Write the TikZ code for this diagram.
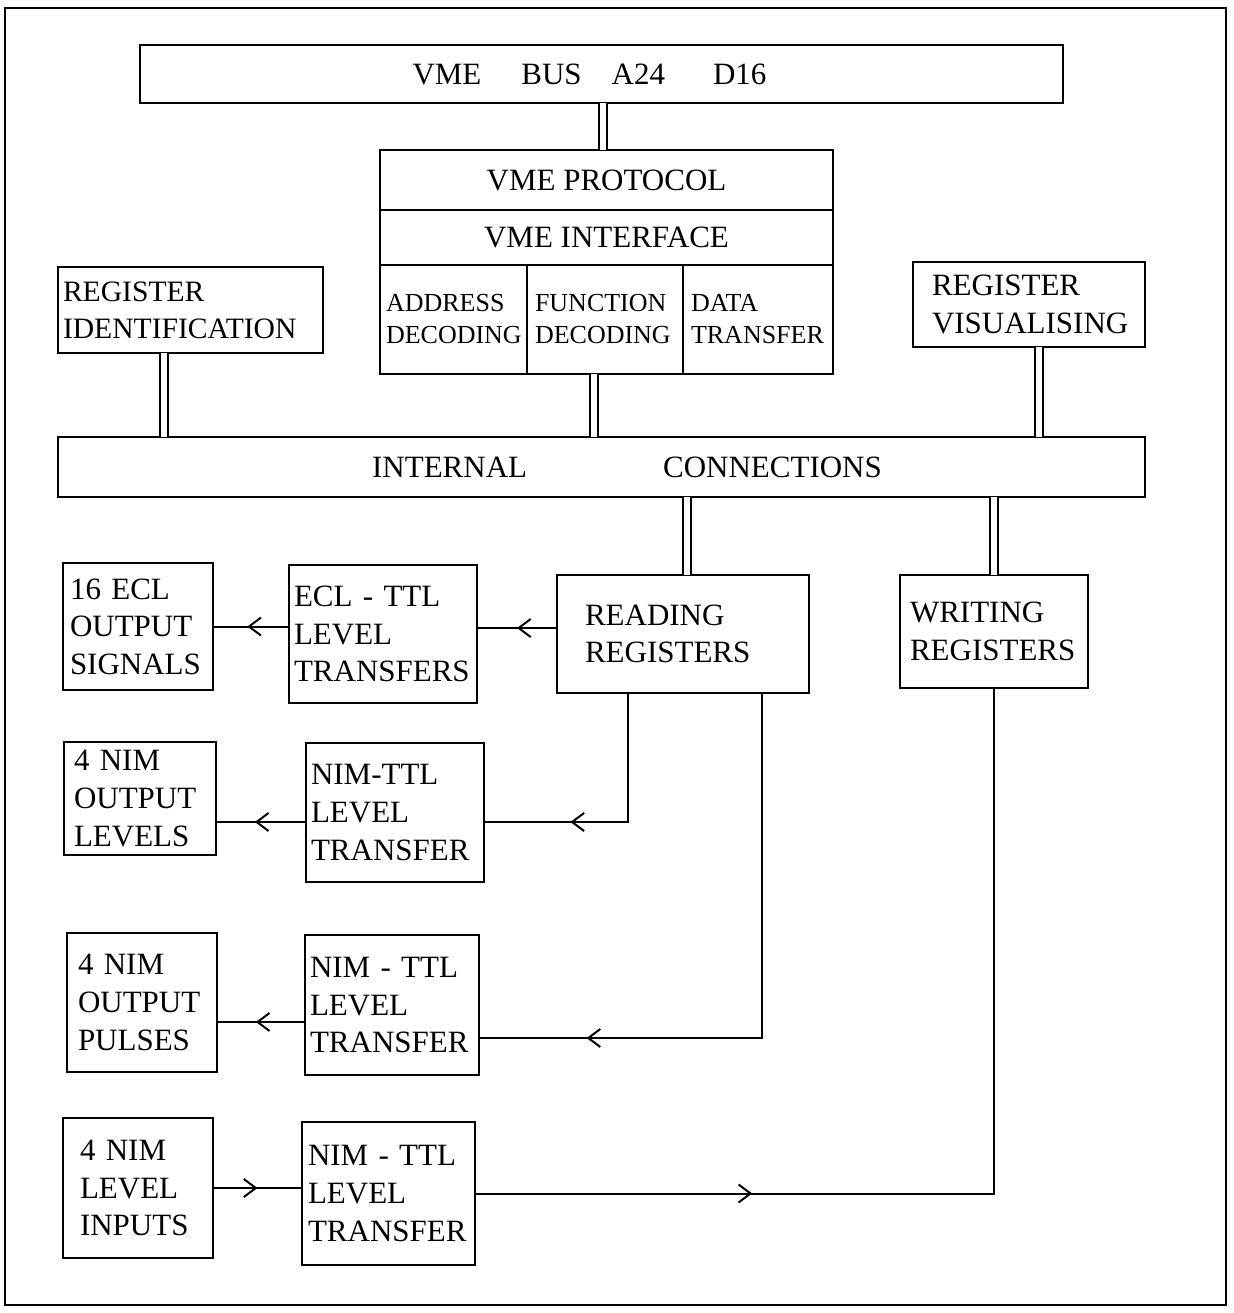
\documentclass[tikz,border=0pt]{standalone}
\usepackage{fontspec}
\setmainfont{Liberation Serif}
\usetikzlibrary{arrows.meta,decorations.markings}

\begin{document}
\begin{tikzpicture}[x=0.5pt, y=-0.5pt,
                    box/.style={draw, rectangle, line width=1.3pt, inner ysep=0pt,
                                font=\fontsize{15.5}{18.8}\selectfont},
                    block/.style={box, align=left},
                    cell/.style={block, font=\fontsize{13}{16}\selectfont},
                    dbl/.style={double, double distance=3pt, line width=0.9pt,
                                shorten <=-0.7pt, shorten >=-0.7pt},
                    flow/.style={line width=1pt, postaction={decorate},
                                 decoration={markings, mark=at position #1 with
                                   {\arrow{Straight Barb[length=6pt, width=9pt]}}}}]

\useasboundingbox (0,0) rectangle (1234,1313);
\draw [line width=1pt] (5,8) rectangle (1226,1305);

% bus and VME interface
\node [box, minimum width=461.5pt, minimum height=29pt] (bus) at (601.5,74)
      {VME\hspace{20pt}BUS\hspace{15pt}A24\hspace{24pt}D16\kern12pt};
\node [box, minimum width=226.5pt, minimum height=30pt] (proto) at (606.5,180) {VME PROTOCOL};
\node [box, minimum width=226.5pt, minimum height=27.5pt] (iface) at (606.5,237.5) {VME INTERFACE};
\node [cell, text width=67.5pt, inner xsep=3pt, minimum height=54.5pt] (addr) at (453.5,319.5) {ADDRESS\\DECODING};
\node [cell, text width=70pt, inner xsep=4pt, minimum height=54.5pt] (func) at (605,319.5) {FUNCTION\\DECODING};
\node [cell, text width=67pt, inner xsep=4pt, minimum height=54.5pt] (data) at (758,319.5) {DATA\\TRANSFER};

\node [block, font=\fontsize{14.8}{18.5}\selectfont, text width=127.5pt, inner xsep=2.5pt, minimum height=43pt] (regid) at (190.5,310) {REGISTER\\IDENTIFICATION};
\node [block, text width=97pt, inner xsep=9.5pt, minimum height=42.5pt] (regvis) at (1029,304.5) {REGISTER\\VISUALISING};

\node [box, minimum width=543.5pt, minimum height=30pt] (intcon) at (601.5,467)
      {\kern25.5pt INTERNAL\hspace{68pt}CONNECTIONS};

% registers
\node [block, text width=98pt, inner xsep=14pt, minimum height=59pt] (rdreg) at (683,634) {READING\\REGISTERS};
\node [block, text width=84pt, inner xsep=5pt, minimum height=56.5pt] (wrreg) at (994,631.5) {WRITING\\REGISTERS};

% level transfers and signals
\node [block, text width=89pt, inner xsep=2.5pt, minimum height=69pt] (ecltr) at (383,634) {ECL - TTL\\LEVEL\\TRANSFERS};
\node [block, text width=68pt, inner xsep=3.5pt, minimum height=63.5pt] (eclout) at (138,626.5) {16 ECL\\OUTPUT\\SIGNALS};
\node [block, text width=84pt, inner xsep=2.5pt, minimum height=69.5pt] (nimtra) at (395,812.5) {NIM-TTL\\LEVEL\\TRANSFER};
\node [block, text width=66pt, inner xsep=5pt, minimum height=56.5pt] (nimlev) at (140,798.5) {4 NIM\\OUTPUT\\LEVELS};
\node [block, text width=82pt, inner xsep=2.5pt, minimum height=70pt] (nimtrb) at (392,1005) {NIM - TTL\\LEVEL\\TRANSFER};
\node [block, text width=64pt, inner xsep=5.5pt, minimum height=69.5pt] (nimpul) at (142,1002.5) {4 NIM\\OUTPUT\\PULSES};
\node [block, text width=58pt, inner xsep=8.5pt, minimum height=70pt] (nimin) at (138,1188) {4 NIM\\LEVEL\\INPUTS};
\node [block, text width=80.5pt, inner xsep=3pt, minimum height=71.5pt] (nimtrc) at (388.5,1193.5) {NIM - TTL\\LEVEL\\TRANSFER};

\draw [dbl] (bus.south -| 603,0) -- (proto.north -| 603,0);
\draw [dbl] (regid.south -| 164,0) -- (intcon.north -| 164,0);
\draw [dbl] (func.south -| 594,0) -- (intcon.north -| 594,0);
\draw [dbl] (regvis.south -| 1039,0) -- (intcon.north -| 1039,0);
\draw [dbl] (intcon.south -| 687,0) -- (rdreg.north -| 687,0);
\draw [dbl] (intcon.south -| wrreg.north) -- (wrreg.north);

\draw [flow=0.5] ([yshift=3pt]rdreg.west) -- ([yshift=3pt]rdreg.west -| ecltr.east);
\draw [flow=0.55] (ecltr.west |- eclout.east) -- (eclout.east);
\draw [flow=0.685] (rdreg.south -| 628,0) |- ([yshift=-4.75pt]nimtra.east);
\draw [flow=0.57] ([yshift=-4.75pt]nimtra.west) -- ([yshift=-4.75pt]nimtra.west -| nimlev.east);
\draw [flow=0.83] (rdreg.south -| 762,0) |- ([yshift=-16.5pt]nimtrb.east);
\draw [flow=0.56] ([yshift=-8.5pt]nimtrb.west) -- ([yshift=-8.5pt]nimtrb.west -| nimpul.east);
\draw [flow=0.5] (nimin.east) -- (nimin.east -| nimtrc.west);
\draw [flow=0.27] (nimtrc.east) -| (wrreg.south);
\end{tikzpicture}
\end{document}
